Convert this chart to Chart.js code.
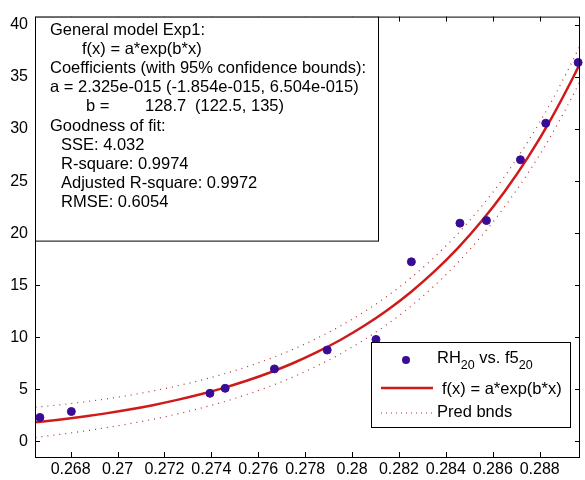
<!DOCTYPE html>
<html>
<head>
<meta charset="utf-8">
<script src="https://cdn.jsdelivr.net/npm/chart.js@4.4.0/dist/chart.umd.min.js"></script>
<style>
  html, body { margin: 0; padding: 0; background: #fff; }
  #wrap { width: 585px; height: 480px; }
</style>
</head>
<body>
<div id="wrap"><canvas id="fitChart" width="585" height="480"></canvas></div>
<script>
// measured points: RH20 vs. f5_20
const rhX = [0.26669, 0.26803, 0.27394, 0.27459, 0.27669, 0.27894, 0.28102, 0.28253, 0.28460, 0.28573, 0.28718, 0.28826, 0.28964];
const rhY = [2.30, 2.87, 4.62, 5.10, 6.96, 8.77, 9.79, 17.25, 20.96, 21.21, 27.05, 30.56, 36.39];

// fitted exp curve and prediction bounds, sampled along x
const fitX = [0.2665, 0.2675, 0.2685, 0.2695, 0.2705, 0.2715, 0.2725, 0.2735, 0.2745, 0.2755, 0.2765, 0.2775,
              0.2785, 0.2795, 0.2805, 0.2815, 0.2825, 0.2835, 0.2845, 0.2855, 0.2865, 0.2875, 0.2885, 0.2895, 0.2897];
const fitY = [1.83, 2.08, 2.37, 2.69, 3.06, 3.48, 3.96, 4.50, 5.12, 5.82, 6.62, 7.53,
              8.57, 9.74, 11.08, 12.60, 14.33, 16.30, 18.54, 21.09, 23.98, 27.28, 31.03, 35.29, 36.21];
const upperY = [3.28, 3.50, 3.77, 4.07, 4.43, 4.84, 5.31, 5.84, 6.46, 7.15, 7.95, 8.86,
                9.90, 11.08, 12.42, 13.95, 15.69, 17.67, 19.93, 22.51, 25.44, 28.80, 32.63, 36.99, 37.93];
const lowerY = [0.38, 0.66, 0.97, 1.31, 1.69, 2.12, 2.61, 3.16, 3.78, 4.49, 5.29, 6.20,
                7.24, 8.40, 9.74, 11.25, 12.97, 14.93, 17.15, 19.67, 22.52, 25.76, 29.43, 33.59, 34.49];

const xTicks = [0.268, 0.27, 0.272, 0.274, 0.276, 0.278, 0.28, 0.282, 0.284, 0.286, 0.288];
const yTicks = [0, 5, 10, 15, 20, 25, 30, 35, 40];

const infoLines = [
  'General model Exp1:',
  'f(x) = a*exp(b*x)',
  'Coefficients (with 95% confidence bounds):',
  'a = 2.325e-015 (-1.854e-015, 6.504e-015)',
  ['b =', '128.7', '(122.5, 135)'],
  'Goodness of fit:',
  'SSE: 4.032',
  'R-square: 0.9974',
  'Adjusted R-square: 0.9972',
  'RMSE: 0.6054'
];

const FONT = '"Liberation Sans", Arial, sans-serif';
const PT_COLOR = '#3a0c96';
const FIT_COLOR = '#d01a1a';
const BND_COLOR = '#b83030';

const pts = (xs, ys) => xs.map((x, i) => ({ x: x, y: ys[i] }));

// white boxes, inward ticks and the closed axes frame
const framePlugin = {
  id: 'framePlugin',
  afterDraw(chart) {
    const { ctx, chartArea: a, scales } = chart;
    ctx.save();
    ctx.strokeStyle = '#000';
    ctx.lineWidth = 1;
    ctx.strokeRect(a.left + 0.5, a.top + 0.5, a.right - a.left - 1, a.bottom - a.top);
    ctx.beginPath();
    scales.x.ticks.forEach(t => {
      const px = Math.round(scales.x.getPixelForValue(t.value)) + 0.5;
      ctx.moveTo(px, a.bottom); ctx.lineTo(px, a.bottom - 5);
      ctx.moveTo(px, a.top); ctx.lineTo(px, a.top + 5);
    });
    scales.y.ticks.forEach(t => {
      const py = Math.round(scales.y.getPixelForValue(t.value)) + 0.5;
      ctx.moveTo(a.left, py); ctx.lineTo(a.left + 5, py);
      ctx.moveTo(a.right, py); ctx.lineTo(a.right - 5, py);
    });
    ctx.stroke();

    // fit results box
    ctx.fillStyle = '#fff';
    ctx.fillRect(a.left, a.top, 343, 224);
    ctx.strokeRect(a.left + 0.5, a.top + 0.5, 343, 224);
    ctx.fillStyle = '#000';
    ctx.font = '16.5px ' + FONT;
    ctx.textBaseline = 'middle';
    const indent = [50, 82, 50, 50, 86, 50, 61, 61, 61, 61];
    infoLines.forEach((ln, i) => {
      const y = 30 + i * 19.2;
      if (Array.isArray(ln)) {
        ctx.fillText(ln[0], indent[i], y);
        ctx.fillText(ln[1], 145, y);
        ctx.fillText(ln[2], 195, y);
      } else {
        ctx.fillText(ln, indent[i], y);
      }
    });

    // legend
    const L = { x: 371, y: 342, w: 199, h: 85 };
    ctx.fillStyle = '#fff';
    ctx.fillRect(L.x, L.y, L.w, L.h);
    ctx.strokeRect(L.x + 0.5, L.y + 0.5, L.w, L.h);
    ctx.fillStyle = PT_COLOR;
    ctx.beginPath();
    ctx.arc(406, 360, 4, 0, Math.PI * 2);
    ctx.fill();
    const runs = [['RH', false], ['20', true], [' vs. ', false], ['f5', false], ['20', true]];
    let tx = 437;
    ctx.fillStyle = '#000';
    runs.forEach(([s, sub]) => {
      ctx.font = (sub ? '12.5px ' : '16.5px ') + FONT;
      ctx.fillText(s, tx, sub ? 366 : 358);
      tx += ctx.measureText(s).width;
    });
    ctx.font = '16.5px ' + FONT;
    ctx.strokeStyle = FIT_COLOR;
    ctx.lineWidth = 2.5;
    ctx.beginPath(); ctx.moveTo(381, 388); ctx.lineTo(433, 388); ctx.stroke();
    ctx.fillText('f(x) = a*exp(b*x)', 442, 389);
    ctx.strokeStyle = BND_COLOR;
    ctx.lineWidth = 1.2;
    ctx.setLineDash([1, 4]);
    ctx.beginPath(); ctx.moveTo(381, 413); ctx.lineTo(436, 413); ctx.stroke();
    ctx.setLineDash([]);
    ctx.fillText('Pred bnds', 437, 412);
    ctx.restore();
  }
};

new Chart(document.getElementById('fitChart'), {
  type: 'scatter',
  data: {
    datasets: [
      { label: 'RH20 vs. f520', data: pts(rhX, rhY), backgroundColor: PT_COLOR, borderColor: PT_COLOR,
        pointRadius: 4, pointHoverRadius: 4, order: 0, clip: false },
      { label: 'f(x) = a*exp(b*x)', data: pts(fitX, fitY), showLine: true, borderColor: FIT_COLOR,
        borderWidth: 2.5, pointRadius: 0, cubicInterpolationMode: 'monotone', order: 1 },
      { label: 'Pred bnds', data: pts(fitX, upperY), showLine: true, borderColor: BND_COLOR,
        borderWidth: 1.2, borderDash: [1, 5], pointRadius: 0, cubicInterpolationMode: 'monotone', order: 2 },
      { label: 'Pred bnds', data: pts(fitX, lowerY), showLine: true, borderColor: BND_COLOR,
        borderWidth: 1.2, borderDash: [1, 5], pointRadius: 0, cubicInterpolationMode: 'monotone', order: 2 }
    ]
  },
  options: {
    responsive: false,
    animation: false,
    layout: { padding: { top: 12, right: 1, left: 0, bottom: 0 } },
    plugins: { legend: { display: false }, tooltip: { enabled: false } },
    scales: {
      x: {
        type: 'linear', min: 0.26648, max: 0.28972,
        afterBuildTicks: s => { s.ticks = xTicks.map(v => ({ value: v })); },
        afterFit: s => { s.height = 23; },
        grid: { display: false, drawTicks: false },
        border: { display: false },
        ticks: { color: '#000', padding: 3, maxRotation: 0, autoSkip: false,
                 font: { family: FONT, size: 16 }, callback: v => String(+v.toFixed(3)) }
      },
      y: {
        type: 'linear', min: -1.5, max: 40.8,
        afterBuildTicks: s => { s.ticks = yTicks.map(v => ({ value: v })); },
        afterFit: s => { s.width = 35; },
        grid: { display: false, drawTicks: false },
        border: { display: false },
        ticks: { color: '#000', padding: 7, autoSkip: false,
                 font: { family: FONT, size: 16 } }
      }
    }
  },
  plugins: [framePlugin]
});
</script>
</body>
</html>
